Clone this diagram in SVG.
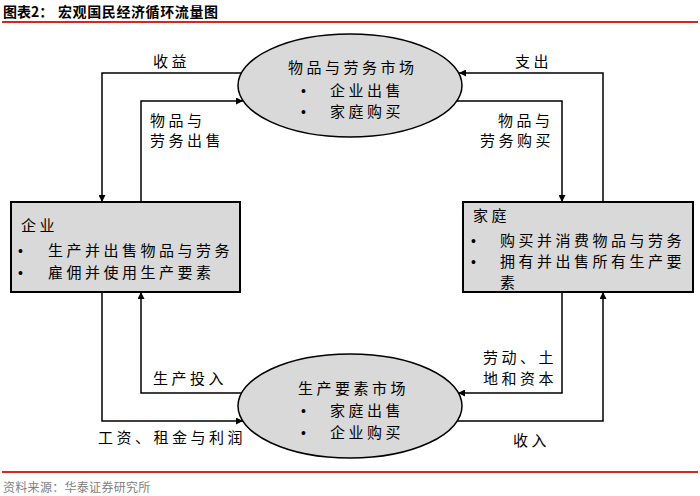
<svg xmlns="http://www.w3.org/2000/svg" width="700" height="496" viewBox="0 0 700 496">
<style>
.t{font-family:"Noto Sans CJK SC","Liberation Sans",sans-serif;font-size:15px;letter-spacing:3.5px;fill:#000}
.b{font-family:"Liberation Sans",sans-serif;font-size:14px;fill:#000}
.c{fill:none;stroke:#000;stroke-width:1.5;marker-end:url(#ah)}
.n{fill:#d9d9d9;stroke:#000}
.red{stroke:#d7261e;stroke-width:2}
</style>
<defs>
<marker id="ah" viewBox="0 0 10 10" refX="10" refY="5" markerUnits="userSpaceOnUse" markerWidth="8" markerHeight="7" orient="auto">
<path d="M0,0 L10,5 L0,10 z" fill="#000"/>
</marker>
</defs>
<rect width="700" height="496" fill="#fff"/>
<text x="3" y="17" font-family="Noto Sans CJK SC, sans-serif" font-size="14" font-weight="bold">图表2：<tspan x="58" letter-spacing="0.6">宏观国民经济循环流量图</tspan></text>
<line class="red" x1="2" y1="22" x2="698" y2="22"/>
<line class="red" x1="2" y1="472" x2="698" y2="472"/>
<text x="3" y="492" font-family="Noto Sans CJK SC, sans-serif" font-size="12" letter-spacing="0.3" fill="#7f7f7f">资料来源：华泰证券研究所</text>

<g id="connectors">
<path class="c" d="M241,73 H102 V202"/>
<path class="c" d="M141,202 V101 H243"/>
<path class="c" d="M603,202 V73 H459"/>
<path class="c" d="M457,101 H562 V202"/>
<path class="c" d="M242,393 H141 V292"/>
<path class="c" d="M102,292 V421 H243"/>
<path class="c" d="M562,292 V393 H458"/>
<path class="c" d="M457,421 H603 V292"/>
<text class="t" x="153" y="66.5">收益</text>
<text class="t" x="150" y="125.5">物品与</text>
<text class="t" x="150" y="145.5">劳务出售</text>
<text class="t" x="515" y="66.5">支出</text>
<text class="t" x="498" y="125.5">物品与</text>
<text class="t" x="480" y="145.5">劳务购买</text>
<text class="t" x="153" y="383.5">生产投入</text>
<text class="t" x="98" y="442.5">工资、租金与利润</text>
<text class="t" x="483" y="362.5">劳动、土</text>
<text class="t" x="483" y="383.5">地和资本</text>
<text class="t" x="513" y="445.5">收入</text>
</g>

<g id="goods-market">
<ellipse class="n" cx="350" cy="85.5" rx="112" ry="51.5" stroke-width="1.5"/>
<text class="t" x="288" y="72.5">物品与劳务市场</text>
<text class="b" x="301" y="95.5">•</text>
<text class="t" x="330" y="95.5">企业出售</text>
<text class="b" x="301" y="116.5">•</text>
<text class="t" x="330" y="116.5">家庭购买</text>
</g>

<g id="factor-market">
<ellipse class="n" cx="350" cy="406" rx="112" ry="52" stroke-width="1.5"/>
<text class="t" x="298" y="393.5">生产要素市场</text>
<text class="b" x="301" y="415.5">•</text>
<text class="t" x="330" y="415.5">家庭出售</text>
<text class="b" x="301" y="437.5">•</text>
<text class="t" x="330" y="437.5">企业购买</text>
</g>

<g id="firms">
<rect class="n" x="11" y="202" width="229" height="90" stroke-width="2"/>
<text class="t" x="21" y="230.5">企业</text>
<text class="b" x="18" y="255.5">•</text>
<text class="t" x="48" y="255.5">生产并出售物品与劳务</text>
<text class="b" x="18" y="277.5">•</text>
<text class="t" x="48" y="277.5">雇佣并使用生产要素</text>
</g>

<g id="households">
<rect class="n" x="463" y="202" width="230" height="90" stroke-width="2"/>
<text class="t" x="473" y="220.5">家庭</text>
<text class="b" x="471" y="245.5">•</text>
<text class="t" x="500" y="245.5">购买并消费物品与劳务</text>
<text class="b" x="471" y="266.5">•</text>
<text class="t" x="500" y="266.5">拥有并出售所有生产要</text>
<text class="t" x="500" y="287.5">素</text>
</g>
</svg>
